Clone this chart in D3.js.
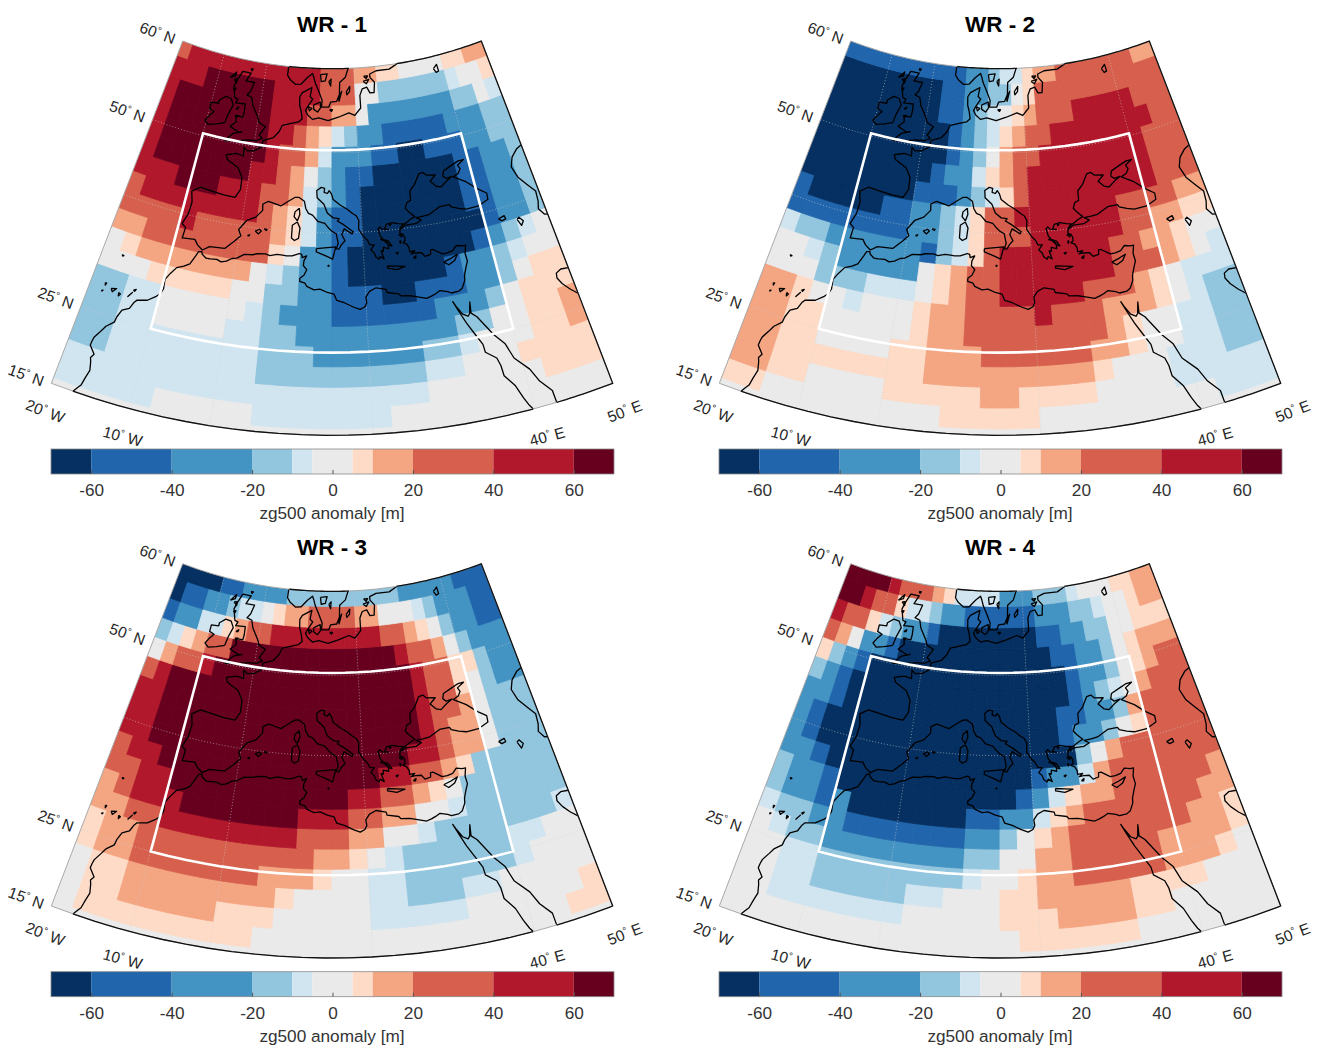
<!DOCTYPE html>
<html>
<head>
<meta charset="utf-8">
<script src="https://cdn.jsdelivr.net/npm/d3@7"></script>
<style>
body { margin: 0; background: #fff; }
text { font-family: "Liberation Sans", Arial, sans-serif; fill: #262626; }
</style>
</head>
<body>
<div id="chart"></div>
<script>
// each row: letter + last column it reaches (0..27, lon -20..50), top row first
var wr1 = [
"c0 b12 c15 d17 e19 o23 e25 d27",
"b2 a8 b12 c15 o17 D23 E24 o26 e27",
"b0 a8 b11 c13 d15 o16 C23 D25 o26 E27",
"b0 a8 b10 c11 d12 e13 E14 D15 C17 B22 C25 D27",
"b0 a8 b9 c11 d12 E13 C16 B18 A20 B23 C25 D27",
"b0 a7 b9 c10 d11 o12 D13 C14 B16 A22 B24 C26 D27",
"b2 a5 b8 c10 d11 E12 D13 C14 B15 A22 B24 C26 D27",
"c0 b8 c9 d10 e11 E12 C13 B15 A22 B24 C26 D27",
"c3 b4 c9 d10 e11 E12 C13 B15 A23 B24 C26 D27",
"d1 c9 e10 o11 C13 B14 A22 B23 C24 D25 E26 o27",
"o0 e1 d8 o9 E10 D11 C13 B14 A20 B21 C23 D24 E25 o27",
"o2 e7 o9 D11 C13 B16 A18 B21 C23 D24 o25 e27",
"D1 E3 o8 E9 D10 C13 B19 C22 D23 o24 e27",
"D1 E3 o7 E9 D11 C20 D22 o24 e26 d27",
"D1 E9 D12 C18 D20 E21 o24 e26 d27",
"D1 E9 D18 E20 o23 e27",
"E18 o24 e27",
"E4 o9 E16 o27",
"o27"
];
var wr2 = [
"B10 C12 D13 E15 e16 d18 c25 d27",
"A8 B10 C12 D14 o15 e16 c27",
"A8 B10 C11 D12 E13 o14 e15 d16 c19 b24 c27",
"A9 B10 C11 D12 E13 e14 d15 c17 b25 c27",
"A9 B10 C11 D12 o13 d14 c16 b24 c27",
"A8 B9 C11 E12 e13 d14 c15 b24 c27",
"A7 B10 C11 D12 E13 e14 c15 b24 c27",
"B0 A5 B7 C9 D10 E11 e12 c14 b21 c25 d27",
"B7 C9 D10 E11 e12 c15 b21 c23 d25 e27",
"E0 D2 C8 B9 D10 E11 e12 c13 b20 c22 d24 e25 o27",
"o1 E2 D3 C8 o9 e10 d11 c13 b20 c23 d24 e25 o26 E27",
"o2 D5 E8 o9 e10 d11 c13 b18 c21 d22 e23 o24 E27",
"d1 e2 o4 E5 o8 e9 d11 c15 b16 c19 d22 e23 o24 E25 D27",
"d1 e3 o8 e9 d11 c19 d20 e21 o23 E25 D27",
"d1 e3 o7 e9 d12 c18 d20 e21 o23 E25 D27",
"d1 e9 d18 e19 o22 E25 D27",
"d1 e3 o7 e12 d14 e18 o22 E27",
"e1 o10 e15 o24 E27",
"o27"
];
var wr3 = [
"A3 B5 C9 D19 C24 B27",
"A0 B2 C4 D5 E7 o8 e9 d11 c15 d17 o20 E21 D22 C25 B27",
"B0 C2 E4 e5 d6 c8 b17 c19 d20 e21 o22 D23 C25 B27",
"D0 E1 e2 d3 c5 a18 b19 c21 d22 o23 D24 C27",
"o0 d1 c3 b4 a19 b20 c22 e24 D25 C27",
"c0 b1 a19 b20 c22 e23 o24 D25 C27",
"b1 a19 b20 c22 d23 o24 D27",
"b1 a19 b20 c21 d23 o24 D27",
"b1 a18 b20 c21 d23 o24 D27",
"c0 b2 a16 b18 c20 d21 e22 D27",
"c1 b3 a14 b16 c18 d19 e20 o21 D27",
"d0 c1 b4 a11 b14 c16 d18 o20 E21 D27",
"d1 c3 b11 c14 d16 o18 E19 D26 E27",
"e0 d2 c12 d14 e15 o16 E17 D23 E25 o27",
"e0 d2 c9 d12 e13 o15 E17 D23 E24 o27",
"o0 e2 d10 e11 o15 E17 D20 E22 o27",
"o0 e2 d7 e10 o15 E20 o26 e27",
"o0 e9 o25 e27",
"o27"
];
var wr4 = [
"a3 b4 c7 d8 e9 E13 C16 D19 E20 o23 e25 d27",
"a1 b2 c4 e5 E7 D8 C10 B16 C19 D21 E22 o24 e25 d27",
"b0 c2 e3 E4 D5 C7 B8 A16 B18 C20 D22 o24 e27",
"c0 d1 o2 C4 B5 A17 B19 C21 D22 o23 e24 d27",
"e0 D1 C2 B3 A18 B19 C21 D22 o23 e24 d25 c27",
"D0 C1 B2 A18 B19 C20 D21 E22 o23 d24 c27",
"C1 B2 A17 B19 C21 D22 d23 c27",
"C0 B1 A17 B18 C20 D21 o22 e23 c27",
"C0 B1 A18 D19 o20 d21 c27",
"C1 B2 A15 B16 C18 E19 d20 c27",
"D0 C2 B3 A14 B15 C16 E17 e18 d20 c26 d27",
"D0 C2 B3 C4 A11 B13 C15 E16 e17 d18 c25 d27",
"E0 D2 C4 B11 C13 D14 o15 e16 d17 c24 d26 e27",
"o0 E1 D3 C11 D13 o15 d17 c22 d26 e27",
"o1 E3 D11 E12 o14 e15 d17 c22 d25 e26 o27",
"o1 E3 D8 E10 o13 e15 d20 e24 o27",
"o1 E8 o13 e16 d20 e22 o27",
"o14 e20 o27",
"o27"
];
var titles = ["WR - 1", "WR - 2", "WR - 3", "WR - 4"];
var levelValues = { A: -65, B: -50, C: -30, D: -15, E: -7, o: 0, e: 7, d: 15, c: 30, b: 50, a: 65 };

var classBreaks = [-60, -40, -20, -10, -5, 5, 10, 20, 40, 60];
var classColors = ["#053061", "#2166ac", "#4393c3", "#92c5de", "#d1e5f0", "#eaeaea", "#fddbc7", "#f4a582", "#d6604d", "#b2182b", "#67001f"];
var barTicks = [-60, -40, -20, 0, 20, 40, 60];

var lonEdges = d3.range(-20, 50.1, 2.5);
var latEdges = [15].concat(d3.range(15.75, 58.3, 2.5), [60]);

var latLabels = [[60, "N"], [50, "N"], [25, "N"], [15, "N"]];
var lonLabels = [[-20, "W"], [-10, "W"], [40, "E"], [50, "E"]];
var latGrid = [25, 40, 50];
var lonGrid = [-10, 0, 20, 40];
var boxLon = [-10, 40];
var boxLat = [25, 50.3];

// coastlines, lon/lat
var mainCoast = [[-17.2,15],[-16.8,15.6],[-16.5,16],[-16.3,17],[-16.05,18],[-16.3,19],[-16.5,19.5],[-16.2,20],[-17.05,20.9],[-17,21.5],[-16.9,22],[-16.3,23],[-15.9,23.7],[-15,24.5],[-14.9,25.2],[-14.5,26.2],[-13.6,26.7],[-13.2,27.6],[-12.9,27.95],[-11.5,28.3],[-10.5,29],[-10,29.5],[-9.7,30.2],[-9.85,31.4],[-9.3,32.3],[-8.6,33.2],[-7.6,33.6],[-6.8,34.05],[-6.2,35.2],[-5.9,35.8],[-5.4,35.9],[-5.3,35.6],[-4.6,35.2],[-3.9,35.2],[-2.9,35.3],[-2.2,35.1],[-1.4,35.3],[-0.6,35.75],[0.1,35.9],[1.2,36.5],[2.5,36.6],[3.2,36.8],[4.5,36.9],[5.2,36.75],[6.3,37],[7.2,36.95],[7.8,36.9],[8.7,36.95],[9.8,37.3],[10.2,37.2],[10.3,36.8],[11,37.05],[10.6,36.4],[10.55,35.8],[11.1,35.3],[10.7,34.6],[10.1,34.2],[10.1,33.8],[10.9,33.6],[11.2,33.2],[12.3,32.8],[13.2,32.9],[14.3,32.5],[15.3,32.3],[15.7,31.5],[16.8,31.2],[18.2,30.6],[19.1,30.3],[19.8,30.6],[20.1,31.1],[20,31.8],[20.6,32.5],[21.6,32.9],[23.1,32.6],[23.2,32.2],[24.9,31.9],[25.2,31.6],[26.5,31.5],[27.4,31.3],[28.9,30.9],[29.7,31.1],[30.3,31.3],[31,31.6],[32.1,31.3],[32.6,31.05],[33.7,31.1],[34.3,31.4],[34.9,32.3],[35,32.9],[35.5,33.9],[35.9,34.6],[35.8,35.6],[36.15,36.6],[35.6,36.6],[34.7,36.8],[34,36.25],[33.1,36.1],[32.3,36.1],[31,36.85],[30.6,36.85],[30.5,36.3],[29.6,36.15],[29.1,36.7],[28.2,36.75],[27.5,36.7],[28.1,37.05],[27.3,37],[27.3,37.5],[27,38],[26.4,38.25],[26.8,38.45],[26.8,39],[26.1,39.5],[26.2,39.95],[27.2,40.4],[28.9,40.4],[29.9,40.75],[29.1,41.15],[30.3,41.2],[31.4,41.3],[33.3,42],[35,42],[35.2,41.7],[36.4,41.3],[37.6,41],[39.7,41],[41.5,41.5],[41.6,42.3],[40.3,43.1],[38.7,44.3],[37.3,45],[36.7,45.3],[37.7,45.6],[38.2,46.1],[37.9,46.6],[39.2,47.1],[38.2,47.1],[36.8,46.75],[35.2,46.3],[34.9,45.7],[35.4,45.3],[36.5,45.4],[35.4,45],[34.2,44.4],[33.4,44.6],[32.5,45.35],[33.6,46],[32,46.2],[31.5,46.6],[30.7,46.5],[29.7,45.3],[28.7,44.6],[28.6,43.4],[27.9,43.2],[27.5,42.5],[28,42],[28.9,41.3],[28,41],[27.4,40.7],[26.7,40.45],[26.2,40.05],[26.8,40.6],[26,40.7],[25,40.9],[24,40.75],[23.7,40.2],[24.3,40.1],[23.3,40.2],[22.9,40.5],[22.6,40.3],[22.9,39.3],[23.2,39.1],[22.9,38.9],[23.7,38.7],[24.05,38.2],[24.05,37.7],[23.2,37.9],[23.15,37.4],[22.8,37.5],[23.2,36.45],[22.6,36.8],[22.4,36.45],[21.9,36.8],[21.7,37.3],[21.2,37.7],[21.8,38.3],[21.1,38.35],[20.75,38.95],[20.1,39.5],[19.4,40.4],[19.5,41.5],[19.1,42.1],[18.5,42.4],[17.6,42.95],[16.4,43.5],[15.2,44.2],[14.9,44.9],[14.5,45.3],[14.2,44.95],[13.6,45.1],[13.7,45.6],[13.1,45.7],[12.3,45.3],[12.4,44.4],[13.6,43.6],[14.2,42.5],[15.2,41.9],[16.2,41.8],[15.9,41.5],[17,41],[18.5,40.1],[18.3,39.85],[17,40.5],[16.6,39.8],[17.1,39],[16.5,38.5],[16.1,37.95],[15.7,38],[16,38.7],[15.7,39.9],[15,40.2],[14.4,40.65],[13.8,41.2],[12.6,41.45],[11.7,42.2],[11,42.4],[10.5,43],[10.2,43.9],[9.2,44.35],[8.5,44.3],[7.5,43.8],[6.2,43.1],[5,43.35],[4,43.5],[3.1,43.1],[3.2,42.3],[2.2,41.35],[0.8,40.8],[-0.3,39.5],[0.2,38.75],[-0.7,37.95],[-2,36.85],[-4.4,36.7],[-5.4,36.1],[-6.3,36.6],[-6.9,37.2],[-8.9,37],[-8.8,38.4],[-9.5,38.75],[-8.9,40.2],[-8.8,41.7],[-9.3,43],[-8,43.75],[-5.8,43.6],[-3.8,43.45],[-1.8,43.4],[-1.1,44.5],[-1.2,46],[-2.2,47.1],[-4.4,47.85],[-4.8,48.4],[-3,48.8],[-1.6,48.65],[-1.8,49.7],[-1.1,49.35],[0.2,49.5],[1.5,50.1],[1.6,50.9],[3.5,51.4],[4.5,52.2],[5,53],[7,53.4],[8.2,53.6],[8.9,54],[8.6,54.9],[8.2,55.6],[8.1,56.6],[8.6,57.1],[10.6,57.75],[10.3,56.7],[10.9,56.4],[9.9,55.5],[9.5,55],[10,54.5],[11,54],[12.3,54.2],[14.2,53.9],[16.3,54.3],[18.5,54.8],[19.7,54.45],[21,55.3],[21,56.8],[21.6,57.55],[22.6,57.7],[23.2,57],[24.1,57],[24.4,58.2],[23.5,58.8],[23.5,59.2],[25,59.5],[28,59.5],[29.8,59.95],[28.5,60.6]];
var scandinavia = [[5.1,60.3],[5,59],[5.7,58.5],[7,58],[8.2,58.1],[9.5,58.9],[10.6,59.4],[10.9,59],[11.3,58.3],[12,57.5],[12.9,56.3],[12.8,55.5],[14.3,55.5],[14.7,56.1],[16,56.2],[16.6,57],[16.7,58.4],[18,59],[18.9,60.3]];
var redSea = [[39.9,14.9],[39.5,15.5],[39,16.6],[38.4,18.2],[37.3,19.7],[37.2,21],[36.9,22],[35.6,23],[35.5,24],[34.7,25.5],[33.9,27],[33.2,28.5],[32.55,29.95],[32.9,29.3],[33.6,28.2],[34.3,27.8],[34.6,28.1],[34.95,29.5],[34.8,28.1],[35.5,27.5],[36.5,26],[37.2,24.9],[38.4,23.5],[39.1,21.5],[40.7,19.7],[41.5,18],[42.7,16.5],[42.8,14.9]];
var caspian = [[50.2,46.7],[49,46.4],[47.7,45.6],[47,44.5],[47.5,43],[48.5,41.8],[49.5,40.6],[49.3,39.3],[48.9,38.4],[49.5,37.5],[50.2,37.3]];
var gulf = [[50.2,30.1],[48.9,30.3],[48.1,30],[47.95,29.4],[48.4,28.5],[49.2,27.5],[50.2,26.5]];
var greatBritain = [[-5.7,50.05],[-3.5,50.3],[-1.2,50.7],[0.3,50.75],[1.4,51.15],[0.7,51.5],[1.7,52.6],[0.3,53],[-0.1,53.6],[-1.5,54.9],[-2,55.8],[-3.1,56],[-2.5,56.5],[-2,57.6],[-3.9,57.6],[-3.1,58.6],[-5,58.6],[-5.8,57.5],[-6.2,56.7],[-5.5,55.4],[-4.8,55.3],[-5.1,54.8],[-3.1,54.9],[-3,53.9],[-3.1,53.3],[-4.5,53.3],[-4.2,52.6],[-5.2,51.9],[-3.2,51.4],[-2.7,51.55],[-4.3,51.15],[-5.7,50.05]];
var ireland = [[-6.4,52.2],[-6.1,53.3],[-5.5,54.5],[-6.2,55.2],[-7.4,55.3],[-8.5,54.7],[-8.5,54.3],[-10,54.2],[-10,53.4],[-9,53.2],[-9.8,52.5],[-10.3,51.9],[-9.5,51.5],[-8,51.8],[-6.4,52.2]];
var islands = [
 [[9.4,43],[9.55,42.2],[9.2,41.4],[8.6,41.9],[8.7,42.5],[9.4,43]],
 [[9.2,41.25],[9.7,40.5],[9.55,39.2],[8.9,38.9],[8.4,39.2],[8.4,40.8],[9.2,41.25]],
 [[12.5,38],[15.6,38.25],[15.1,36.7],[14.2,37.05],[12.5,37.6],[12.5,38]],
 [[2.4,39.6],[3.1,39.9],[3.4,39.7],[3,39.3],[2.4,39.6]],
 [[3.8,40],[4.3,40],[4.2,39.85],[3.8,40]],
 [[1.25,38.9],[1.6,39.05],[1.5,38.9],[1.25,38.9]],
 [[23.6,35.55],[25,35.4],[26.3,35.25],[25,34.95],[23.6,35.25],[23.6,35.55]],
 [[32.3,35.05],[33.5,35.35],[34.6,35.7],[34,35],[33,34.6],[32.3,35.05]],
 [[27.75,36.15],[28.2,36.4],[28.1,36.1],[27.75,36.15]],
 [[23.2,38.95],[24.1,38.65],[24.6,38],[24.2,38.1],[23.2,38.95]],
 [[25.9,39.3],[26.6,39.3],[26.3,39],[25.9,39.3]],
 [[25.9,38.5],[26.1,38.5],[26,38.2],[25.9,38.5]],
 [[24.5,40.75],[24.8,40.7],[24.6,40.55],[24.5,40.75]],
 [[25.1,37.05],[25.5,37.1],[25.3,36.9],[25.1,37.05]],
 [[14.35,35.95],[14.55,35.85],[14.4,35.8],[14.35,35.95]],
 [[-17,32.8],[-16.7,32.75],[-16.85,32.65],[-17,32.8]],
 [[-16.9,28.35],[-16.15,28.55],[-16.6,28],[-16.9,28.35]],
 [[-15.7,28.15],[-15.4,28.05],[-15.6,27.75],[-15.7,28.15]],
 [[-14.2,28.2],[-13.85,28.7],[-14.3,28.05],[-14.2,28.2]],
 [[-13.8,29],[-13.45,29.2],[-13.6,28.9],[-13.8,29]],
 [[-17.95,28.8],[-17.75,28.8],[-17.85,28.5],[-17.95,28.8]],
 [[-18.1,27.75],[-17.9,27.8],[-18,27.65],[-18.1,27.75]],
 [[-7.4,57.6],[-6.3,58.4],[-6.4,57.9],[-7.4,57.6]],
 [[-6.5,57.5],[-5.9,57.6],[-5.8,57.15],[-6.5,57.5]],
 [[-6.2,56.4],[-5.7,56.55],[-5.8,56.3],[-6.2,56.4]],
 [[-3.3,59.1],[-2.8,59.1],[-3,58.9],[-3.3,59.1]],
 [[-4.7,53.3],[-4.1,53.4],[-4.3,53.15],[-4.7,53.3]],
 [[-4.8,54.1],[-4.3,54.4],[-4.4,54.15],[-4.8,54.1]],
 [[10,55.5],[10.8,55.3],[10.3,55],[10,55.5]],
 [[11.1,55.7],[12.5,56.1],[12.6,55.4],[12,54.9],[11.2,55.2],[11.1,55.7]],
 [[18.1,57.3],[18.9,57.9],[18.8,57.3],[18.2,56.95],[18.1,57.3]],
 [[16.4,56.65],[17.1,57.35],[16.5,56.2],[16.4,56.65]],
 [[21.9,58.4],[23.2,58.6],[22.6,58.1],[21.9,58.4]],
 [[22.1,59],[23,59],[22.6,58.7],[22.1,59]],
 [[14.5,55.2],[15.1,55.2],[14.9,55],[14.5,55.2]]
];
var lakes = [
 [[42.3,38.75],[43.3,38.95],[43.4,38.5],[42.7,38.4],[42.3,38.75]],
 [[45.1,38],[45.5,38.2],[46,37.6],[45.5,37.1],[45.1,38]],
 [[12.4,59.3],[13.9,59.4],[13.5,58.6],[12.6,58.5],[12.4,59.3]],
 [[14.3,58.5],[14.8,58.8],[14.7,58],[14.3,58.5]],
 [[37.8,58.6],[38.7,59],[38.8,58.2],[38.2,58.1],[37.8,58.6]]
];
var landFrame = [
 [[-17.2,15],[39.8,15]],
 [[42.8,15],[50,15],[50,60],[29.8,60]],
 [[5.2,60],[18.9,60]]
];

var W = 1321, H = 1046;
var svg = d3.select("#chart").append("svg").attr("width", W).attr("height", H);

var projection = d3.geoConicConformal()
    .parallels([36.87, 36.87])
    .rotate([-15, 0])
    .scale(454.3)
    .translate([332, 570.2]);

var lineGen = d3.line();
var colorScale = d3.scaleThreshold().domain(classBreaks).range(classColors);
var barX = d3.scaleLinear().domain([-70, 70]).range([51, 614]);

// sample a lon/lat segment so parallels come out as arcs
function track(a, b) {
    var pts = [];
    d3.range(0, 1.001, 0.05).forEach(function(t) {
        pts.push(projection([a[0] + (b[0] - a[0]) * t, a[1] + (b[1] - a[1]) * t]));
    });
    return pts;
}

function polyTrack(points) {
    var pts = [];
    for (var i = 0; i < points.length - 1; i++) pts = pts.concat(track(points[i], points[i + 1]));
    return pts;
}

function coastPath(points) {
    return lineGen(points.map(function(p) { return projection(p); }));
}

function decodeRows(rows) {
    return rows.slice().reverse().map(function(r) {
        var out = [], from = 0;
        r.split(" ").forEach(function(tok) {
            var last = +tok.slice(1);
            for (var c = from; c <= last; c++) out.push(levelValues[tok[0]]);
            from = last + 1;
        });
        if (out.length != 28) console.log("bad row", r);
        return out;
    });
}

var frameOutline = polyTrack([[-20, 15], [50, 15], [50, 60], [-20, 60], [-20, 15]]);

svg.append("clipPath").attr("id", "domain")
    .append("path").attr("d", lineGen(frameOutline) + "Z");

var panelPos = [[0, 0], [668, 0], [0, 522.7], [668, 522.7]];

[wr1, wr2, wr3, wr4].forEach(function(rows, pi) {
    var g = svg.append("g").attr("transform", "translate(" + panelPos[pi] + ")");
    var grid = decodeRows(rows);
    var cells = [];
    grid.forEach(function(row, r) {
        row.forEach(function(v, c) { cells.push({ r: r, c: c, v: v }); });
    });

    g.append("text").attr("x", 332).attr("y", 32).attr("text-anchor", "middle")
        .style("font-size", "22.5px").style("font-weight", "bold").style("fill", "#000")
        .text(titles[pi]);

    var map = g.append("g").attr("clip-path", "url(#domain)");

    map.selectAll("path.cell").data(cells).enter().append("path")
        .attr("class", "cell")
        .attr("d", function(d) {
            var w = lonEdges[d.c], e = lonEdges[d.c + 1], s = latEdges[d.r], n = latEdges[d.r + 1];
            return lineGen(polyTrack([[w, s], [e, s], [e, n], [w, n], [w, s]])) + "Z";
        })
        .attr("fill", function(d) { return colorScale(d.v); })
        .attr("stroke", function(d) { return colorScale(d.v); })
        .attr("stroke-width", 1);

    // dotted graticule
    latGrid.forEach(function(lat) {
        map.append("path").attr("d", lineGen(track([-20, lat], [50, lat])))
            .attr("fill", "none").attr("stroke", "#d2d2d2").attr("stroke-opacity", 0.7).attr("stroke-width", 0.8).attr("stroke-dasharray", "1,2");
    });
    lonGrid.forEach(function(lon) {
        map.append("path").attr("d", lineGen(track([lon, 15], [lon, 60])))
            .attr("fill", "none").attr("stroke", "#d2d2d2").attr("stroke-opacity", 0.7).attr("stroke-width", 0.8).attr("stroke-dasharray", "1,2");
    });

    // coast
    [mainCoast, scandinavia, redSea, caspian, gulf, greatBritain, ireland].concat(islands, lakes).forEach(function(line) {
        map.append("path").attr("d", coastPath(line))
            .attr("fill", "none").attr("stroke", "#000").attr("stroke-width", 1.3).attr("stroke-linejoin", "round");
    });

    // frame: thin grey everywhere, black where land meets it
    g.append("path").attr("d", lineGen(frameOutline)).attr("fill", "none").attr("stroke", "#a8a8a8").attr("stroke-width", 1);
    landFrame.forEach(function(line) {
        g.append("path").attr("d", lineGen(polyTrack(line))).attr("fill", "none").attr("stroke", "#111").attr("stroke-width", 1.3);
    });

    // target box
    g.append("path").attr("d", lineGen(polyTrack([[boxLon[0], boxLat[0]], [boxLon[1], boxLat[0]], [boxLon[1], boxLat[1]], [boxLon[0], boxLat[1]], [boxLon[0], boxLat[0]]])) + "Z")
        .attr("fill", "none").attr("stroke", "#fff").attr("stroke-width", 2.6);

    // lat / lon labels
    function degLabel(txt, hemi, x, y, angle) {
        var t = g.append("text").attr("text-anchor", "middle")
            .attr("transform", "translate(" + x + "," + y + ") rotate(" + angle + ")")
            .style("font-size", "15.5px");
        t.append("tspan").text(txt);
        t.append("tspan").attr("dy", -5).style("font-size", "10px").text("\u00b0");
        t.append("tspan").attr("dy", 5).text(" " + hemi);
    }
    latLabels.forEach(function(l) {
        var p = projection([-20, l[0]]);
        degLabel(l[0], l[1], p[0] - 27, p[1] - 3, 20);
    });
    lonLabels.forEach(function(l) {
        var p = projection([l[0], 15]);
        var dx = l[0] < 0 ? -8 : 14, ang = -0.6 * (l[0] - 15);
        degLabel(Math.abs(l[0]), l[1], p[0] + dx, p[1] + 33, ang);
    });

    // colorbar
    var bar = g.append("g").attr("transform", "translate(0,449)");
    var barEdges = [-70].concat(classBreaks, [70]);
    bar.selectAll("rect").data(classColors).enter().append("rect")
        .attr("x", function(d, i) { return barX(barEdges[i]); })
        .attr("width", function(d, i) { return barX(barEdges[i + 1]) - barX(barEdges[i]); })
        .attr("height", 25)
        .attr("fill", function(d) { return d; });
    bar.append("rect").attr("x", 51).attr("width", 563).attr("height", 25)
        .attr("fill", "none").attr("stroke", "#8a8a8a").attr("stroke-width", 0.8);
    var axis = bar.append("g").attr("transform", "translate(0,25)")
        .call(d3.axisBottom(barX).tickValues(barTicks).tickSizeInner(-4).tickSizeOuter(0).tickPadding(10).tickFormat(function(d) { return String(d); }));
    axis.select(".domain").remove();
    axis.selectAll("line").attr("stroke", "#555");
    axis.selectAll("text").style("font-size", "17.2px").style("fill", "#333").style("font-family", '"Liberation Sans", Arial, sans-serif');
    bar.append("text").attr("x", 332).attr("y", 70).attr("text-anchor", "middle")
        .style("font-size", "17.2px").style("fill", "#333").text("zg500 anomaly [m]");
});
</script>
</body>
</html>
